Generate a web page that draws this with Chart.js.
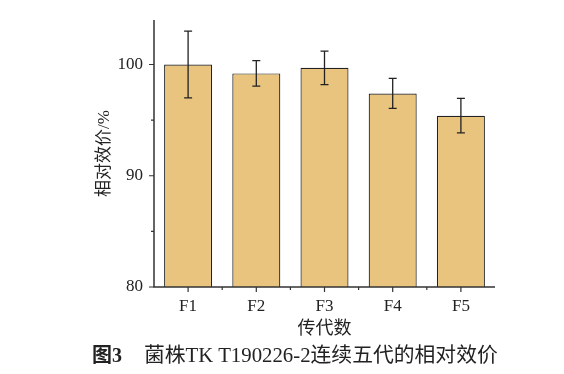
<!DOCTYPE html>
<html><head><meta charset="utf-8">
<script src="https://cdn.jsdelivr.net/npm/chart.js@4"></script>
<style>
html,body{margin:0;padding:0;background:#fff;}
#wrap{position:relative;width:564px;height:374px;overflow:hidden;}
canvas{position:absolute;left:0;top:0;}
#cap{position:absolute;left:92px;top:343px;font:20px/24px "Liberation Serif","Noto Sans CJK SC";color:#222;white-space:nowrap;}
</style></head><body>
<div id="wrap"><canvas id="c" width="564" height="374"></canvas>
<div id="cap"><b>图3</b><span style="margin-left:22px;font-size:20.8px">菌株TK T190226-2连续五代的相对效价</span></div></div>
<script>
const categories = ['F1','F2','F3','F4','F5'];
const values = [100, 99.2, 99.7, 97.4, 95.4];
const errors = [3.0, 1.15, 1.5, 1.35, 1.55];
const yMajorTicks = [80, 90, 100];
const yMinorTicks = [85, 95];
const yMin = 80, yMax = 104;

const SERIF = '"Liberation Serif","Noto Sans CJK SC"';
const INK = '#222';

const overlay = {
  id: 'overlay',
  afterDatasetsDraw(chart) {
    const ctx = chart.ctx, x = chart.scales.x, y = chart.scales.y;
    ctx.save();
    ctx.strokeStyle = INK; ctx.lineWidth = 1.3;
    values.forEach((v, i) => {
      const cx = x.getPixelForValue(i);
      const top = y.getPixelForValue(v + errors[i]);
      const bot = y.getPixelForValue(v - errors[i]);
      ctx.beginPath();
      ctx.moveTo(cx, top); ctx.lineTo(cx, bot);
      ctx.moveTo(cx - 4, top); ctx.lineTo(cx + 4, top);
      ctx.moveTo(cx - 4, bot); ctx.lineTo(cx + 4, bot);
      ctx.stroke();
    });
    ctx.restore();
  },
  afterDraw(chart) {
    const ctx = chart.ctx, x = chart.scales.x, y = chart.scales.y;
    const a = chart.chartArea;
    ctx.save();
    ctx.strokeStyle = '#333'; ctx.lineWidth = 1.5;
    ctx.beginPath();
    ctx.moveTo(a.left, a.top); ctx.lineTo(a.left, a.bottom); ctx.lineTo(a.right, a.bottom);
    ctx.stroke();
    ctx.lineWidth = 1.2;
    ctx.beginPath();
    yMajorTicks.forEach(t => { const py = y.getPixelForValue(t); ctx.moveTo(a.left, py); ctx.lineTo(a.left - 5, py); });
    yMinorTicks.forEach(t => { const py = y.getPixelForValue(t); ctx.moveTo(a.left, py); ctx.lineTo(a.left - 3, py); });
    categories.forEach((c, i) => {
      const px = x.getPixelForValue(i);
      ctx.moveTo(px, a.bottom); ctx.lineTo(px, a.bottom + 5);
      if (i > 0) {
        const bx = (x.getPixelForValue(i - 1) + px) / 2;
        ctx.moveTo(bx, a.bottom); ctx.lineTo(bx, a.bottom + 3);
      }
    });
    ctx.stroke();
    ctx.restore();
  }
};

new Chart(document.getElementById('c'), {
  type: 'bar',
  data: {
    labels: categories,
    datasets: [{
      data: values,
      backgroundColor: '#E9C47E',
      borderColor: '#222',
      borderWidth: 1.2,
      barPercentage: 0.704,
      categoryPercentage: 1
    }]
  },
  options: {
    responsive: false,
    animation: false,
    layout: { padding: { left: 90, top: 20, right: 69, bottom: 34 } },
    plugins: { legend: { display: false }, tooltip: { enabled: false } },
    scales: {
      x: {
        grid: { display: false },
        border: { display: false },
        ticks: { color: INK, padding: 1, font: { family: SERIF, size: 17 } },
        title: { display: true, text: '传代数', color: INK, padding: { top: 1, bottom: 0 },
                 font: { family: SERIF, size: 18 } }
      },
      y: {
        min: yMin, max: yMax,
        afterFit(s) { s.width = 64; },
        grid: { display: false },
        border: { display: false },
        ticks: { stepSize: 10, includeBounds: false, color: INK, padding: 3,
                 font: { family: SERIF, size: 17 },
                 callback: v => yMajorTicks.includes(v) ? String(v) : '' },
        title: { display: true, text: '相对效价/%', color: INK, padding: { top: 4, bottom: 0 },
                 font: { family: SERIF, size: 17 } }
      }
    }
  },
  plugins: [overlay]
});
</script>
</body></html>
